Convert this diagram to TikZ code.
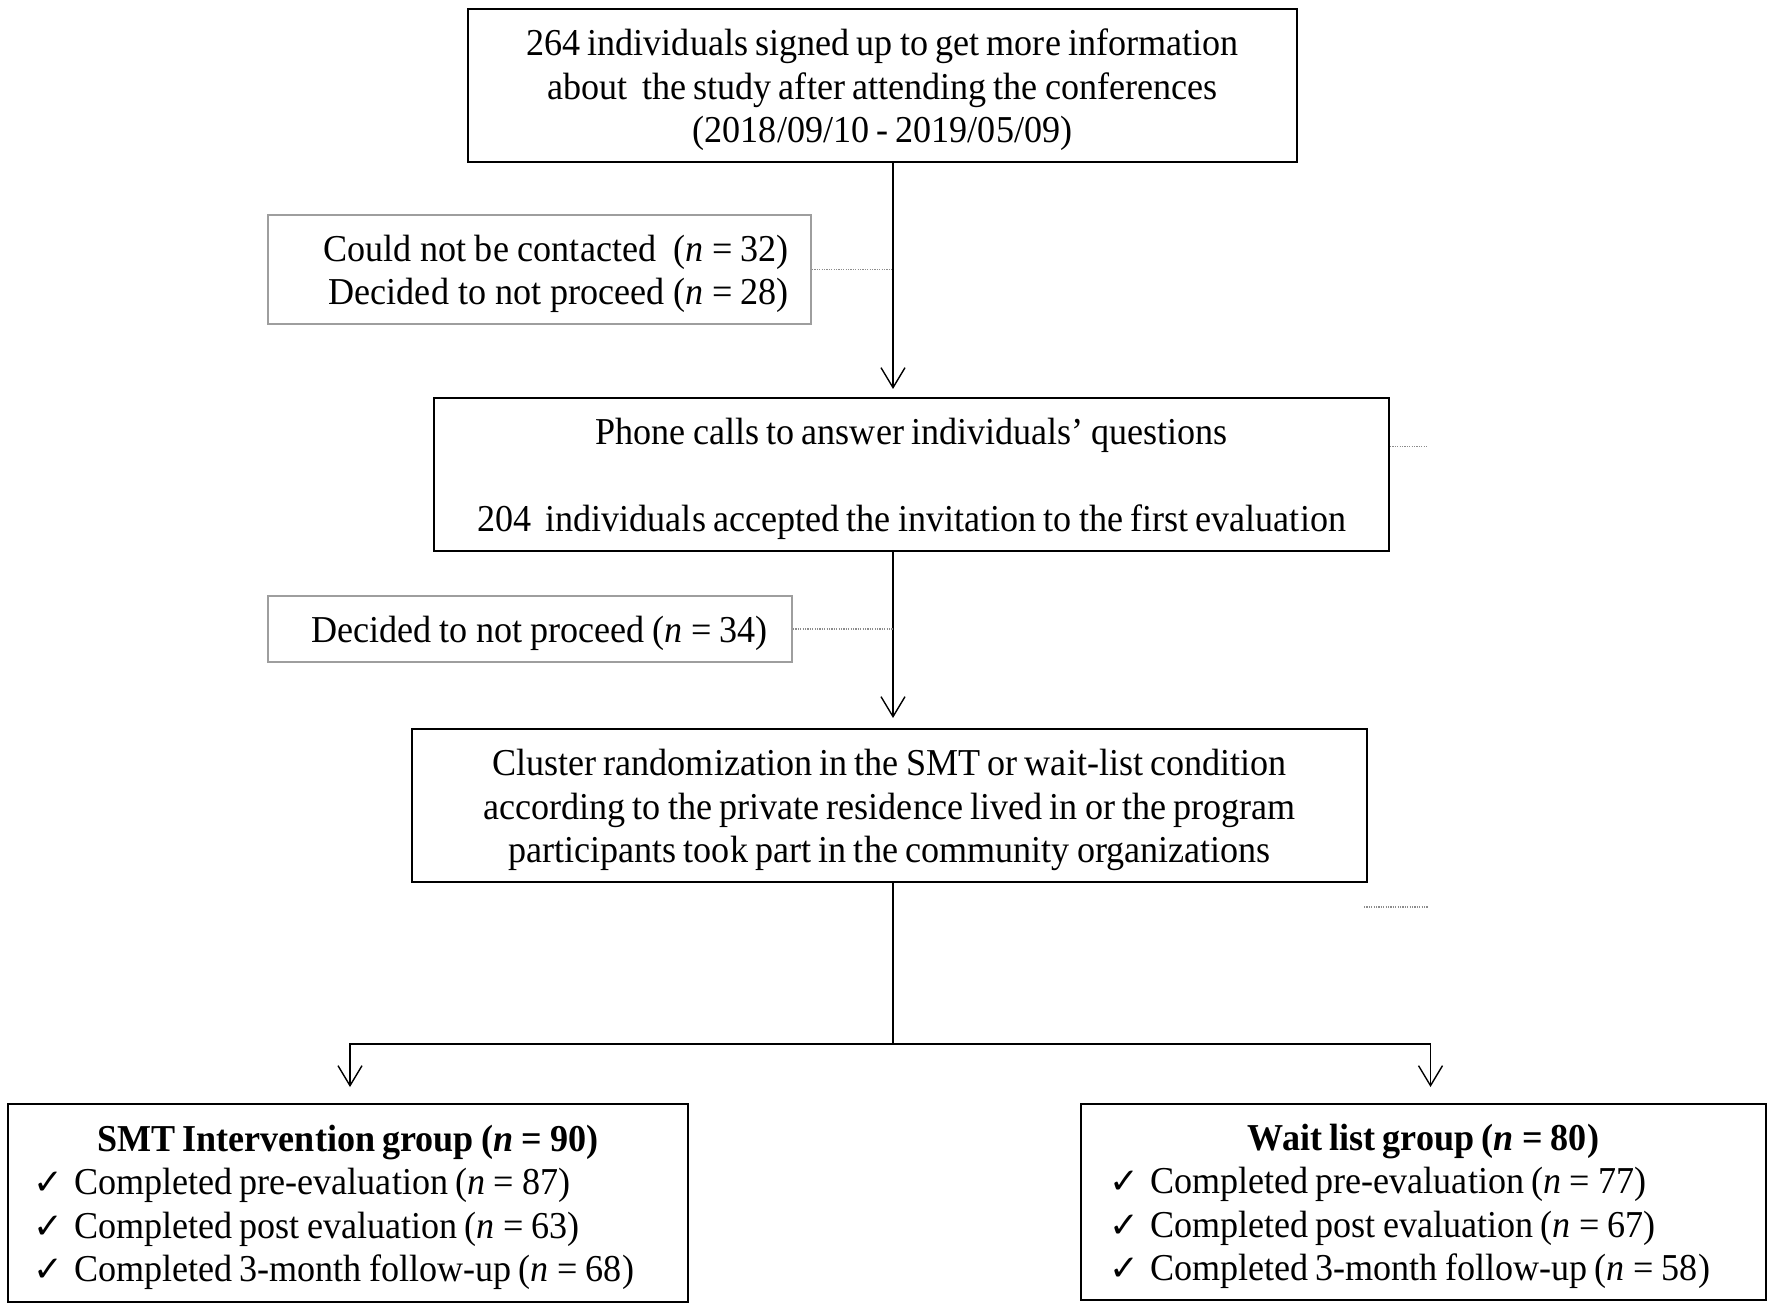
\documentclass[tikz,border=0pt]{standalone}
\usepackage{fontspec}
\setmainfont{Liberation Serif}[FakeStretch=0.95,WordSpace=0.8]
\newfontfamily\symfont{DejaVu Sans}
\usetikzlibrary{arrows.meta,calc}
\newcommand{\eqsp}{\hspace{0.22em}=\hspace{0.22em}}
\newcommand{\nn}[1]{\textit{n}\eqsp#1}
\newcommand{\tstrut}{\rule{0pt}{17.6pt}}
\newcommand{\natsp}{\spaceskip=0pt\xspaceskip=0pt\relax}
\newcommand{\ck}{\makebox[20.5pt][l]{\fontsize{17.8pt}{21.7pt}\symfont ✓}}
\begin{document}
\begin{tikzpicture}[x=0.5pt,y=-0.5pt,
  every node/.style={font=\fontsize{19pt}{21.7pt}\selectfont},
  mainbox/.style={draw=black,line width=1pt,inner sep=0pt,align=center,minimum width=477.5pt,minimum height=76.5pt},
  graybox/.style={draw=black!38,line width=1pt,inner ysep=0pt,align=right},
  groupbox/.style={draw=black,line width=1pt,inner ysep=0pt,align=left},
  conn/.style={line width=0.7pt,black},
  arr/.style={-{Straight Barb[length=10pt,width=12pt,line width=0.7pt]}},
  dotl/.style={black!45,line width=0.7pt,dash pattern=on 0.6pt off 0.6pt}]
\useasboundingbox (0,0) rectangle (1772,1310);
\fill[white] (0,0) rectangle (1772,1310);
\coordinate (sx) at (893,0);
% boxes
\node[mainbox,minimum width=414.5pt] (top) at (882.5,85.5)
  {\tstrut 264 individuals signed up to get more information\\ about\ \ the study after attending the conferences\\ (2018/09/10 - 2019/05/09)};
\node[graybox,text width=249.5pt,inner xsep=11pt,minimum height=54.5pt] (ex1) at (539.5,269.5)
  {\natsp\tstrut Could not be contacted\ \ (\nn{32})\\ Decided to not proceed (\nn{28})};
\node[mainbox] (phone) at (911.5,474.5)
  {\tstrut Phone calls to answer individuals’ questions\\[21.7pt] 204\ \ individuals accepted the invitation to the first evaluation};
\node[graybox,text width=238pt,inner xsep=12pt,minimum height=33pt] (ex2) at (530,629)
  {\natsp\tstrut Decided to not proceed (\nn{34})};
\node[mainbox] (cluster) at (889.5,805.5)
  {\tstrut Cluster randomization in the SMT or wait-list condition\\ according to the private residence lived in or the program\\ participants took part in the community organizations};
\node[groupbox,text width=315pt,inner xsep=12.5pt,minimum height=99pt] (smt) at (348,1203)
  {\natsp\tstrut\makebox[315pt][c]{\bfseries SMT Intervention group (\nn{90})}\\
   \ck Completed pre-evaluation (\nn{87})\\
   \ck Completed post evaluation (\nn{63})\\
   \ck Completed 3-month follow-up (\nn{68})};
\node[groupbox,text width=314.5pt,inner xsep=14pt,minimum height=98pt] (wait) at (1423.5,1202)
  {\natsp\tstrut\makebox[314.5pt][c]{\bfseries Wait list group (\nn{80})}\\
   \ck Completed pre-evaluation (\nn{77})\\
   \ck Completed post evaluation (\nn{67})\\
   \ck Completed 3-month follow-up (\nn{58})};
% connectors
\draw[conn,arr,shorten >=4pt] (top.south -| sx) -- (phone.north -| sx);
\draw[dotl] (ex1.east) -- (ex1.east -| sx);
\coordinate (pd) at ($(phone.east)+(37,-28)$);
\draw[dotl] (phone.east |- pd) -- (pd);
\draw[conn,arr,shorten >=5pt] (phone.south -| sx) -- (cluster.north -| sx);
\draw[dotl] (ex2.east) -- (ex2.east -| sx);
\coordinate (d1) at (1364,907);
\coordinate (d2) at (1428,907);
\draw[dotl] (d1) -- (d2);
\coordinate (split) at (893,1044);
\draw[conn] (cluster.south -| sx) -- (split);
\draw[conn,arr,shorten >=8pt] (split) -| ([xshift=1pt]smt.north);
\draw[conn,arr,shorten >=8pt] (split) -| ([xshift=3.5pt]wait.north);
\end{tikzpicture}
\end{document}
